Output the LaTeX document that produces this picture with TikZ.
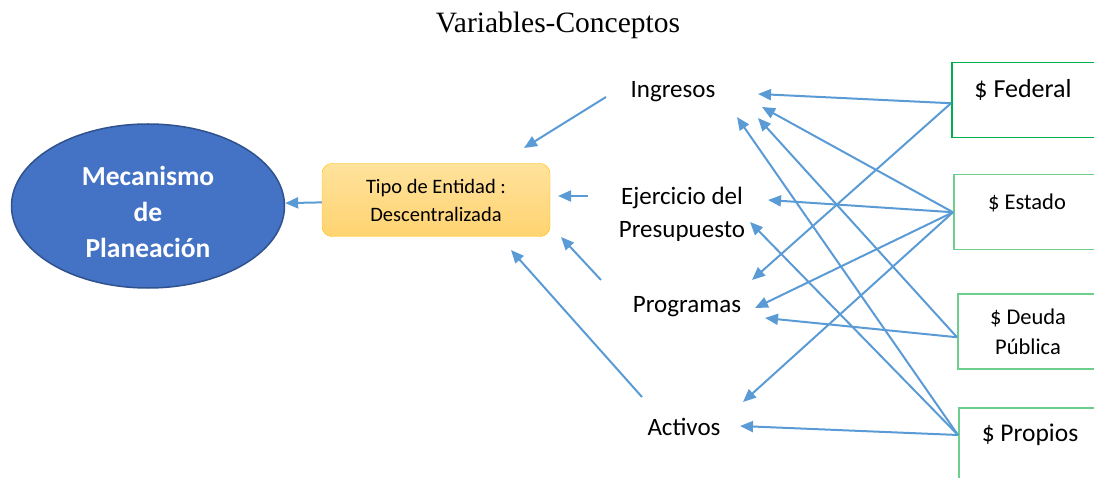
\documentclass[tikz,border=0pt]{standalone}
\usepackage{fontspec}
\setmainfont{Carlito}
\newfontfamily\titlefont{Liberation Serif}
\usetikzlibrary{arrows.meta,shapes.geometric}
\definecolor{linkblue}{RGB}{91,155,213}
\definecolor{ovalblue}{RGB}{68,114,196}
\definecolor{ovalline}{RGB}{47,82,143}
\definecolor{boxtop}{RGB}{255,226,156}
\definecolor{boxbot}{RGB}{255,211,112}
\definecolor{boxline}{RGB}{255,192,0}
\definecolor{srcgreen}{RGB}{0,176,80}
\definecolor{srclight}{RGB}{110,206,140}
\begin{document}
\begin{tikzpicture}[x=1pt,y=-1pt,
    link/.style={linkblue, line width=2pt, ->, >={Triangle[length=13pt,width=11pt]}},
    concept/.style={font=\fontsize{25}{33}\selectfont, align=center},
    srcbox/.style={draw=srclight, line width=1.5pt, minimum width=170pt, minimum height=75pt, anchor=north west, inner sep=0pt},
    srctext/.style={font=\fontsize{22.5}{30}\selectfont, align=center}]
    \useasboundingbox (0,0) rectangle (1094,478);
    \clip (0,0) rectangle (1094,478);
    \node[font=\titlefont\fontsize{29.5}{30}\selectfont] (title) at (558,25) {Variables-Conceptos};
    \node[ellipse, draw=ovalline, fill=ovalblue, line width=1.5pt, minimum width=273pt, minimum height=164pt] (plan) at (148,206) {};
    \node[text=white, font=\bfseries\fontsize{27.5}{36}\selectfont, align=center] (plant) at (148,212) {Mecanismo\\de\\Planeación};
    \node[draw=boxline, top color=boxtop, bottom color=boxbot, rounded corners=10pt, minimum width=228pt, minimum height=73pt, align=center, font=\fontsize{20.5}{28}\selectfont] (ent) at (436,200) {Tipo de Entidad :\\Descentralizada};
    \node[concept] (ing) at (673,92) {Ingresos};
    \node[concept] (eje) at (682,214) {Ejercicio del\\Presupuesto};
    \node[concept] (prog) at (687,307) {Programas};
    \node[concept] (act) at (684,427) {Activos};
    \node[srcbox, draw=srcgreen] (fed) at (951,62) {};
    \node[srcbox] (est) at (953,174) {};
    \node[srcbox] (deu) at (957,293) {};
    \node[srcbox, minimum height=100pt] (prop) at (958,407) {};
    \node[srctext, font=\fontsize{26}{30}\selectfont] (fedt) at (1023,90) {\$ Federal};
    \node[srctext] (estt) at (1027,203) {\$ Estado};
    \node[srctext] (deut) at (1028,332) {\$ Deuda\\Pública};
    \node[srctext, font=\fontsize{25.5}{30}\selectfont] (propt) at (1030,435) {\$ Propios};
    \coordinate (ing-out) at (606,97);
    \coordinate (eje-out) at (588,196);
    \coordinate (prog-out) at (601,280);
    \coordinate (act-out) at (642,397);
    \coordinate (ent-a) at (524,148);
    \coordinate (ent-b) at (558,196);
    \coordinate (ent-c) at (561,237);
    \coordinate (ent-d) at (511,250);
    \coordinate (ing-f) at (758,94);
    \coordinate (ing-e) at (762,107);
    \coordinate (ing-d) at (758,118);
    \coordinate (ing-p) at (737,117);
    \coordinate (eje-e) at (768,200);
    \coordinate (eje-p) at (750,222);
    \coordinate (prog-f) at (752,280);
    \coordinate (prog-e) at (755,308);
    \coordinate (prog-d) at (765,318);
    \coordinate (act-e) at (743,402);
    \coordinate (act-p) at (740,426);
    \draw[link] (ent) -- (plan);
    \draw[link] (ing-out) -- (ent-a);
    \draw[link] (eje-out) -- (ent-b);
    \draw[link] (prog-out) -- (ent-c);
    \draw[link] (act-out) -- (ent-d);
    \draw[link] ([yshift=-3pt]fed.west) -- (ing-f);
    \draw[link] ([yshift=-3pt]fed.west) -- (prog-f);
    \draw[link] (est.west) -- (ing-e);
    \draw[link] (est.west) -- (eje-e);
    \draw[link] (est.west) -- (prog-e);
    \draw[link] (est.west) -- (act-e);
    \draw[link] ([yshift=-6pt]deu.west) -- (ing-d);
    \draw[link] ([yshift=-6pt]deu.west) -- (prog-d);
    \draw[link] ([yshift=-28pt]prop.north west) -- (ing-p);
    \draw[link] ([yshift=-28pt]prop.north west) -- (eje-p);
    \draw[link] ([yshift=-28pt]prop.north west) -- (act-p);
\end{tikzpicture}
\end{document}
